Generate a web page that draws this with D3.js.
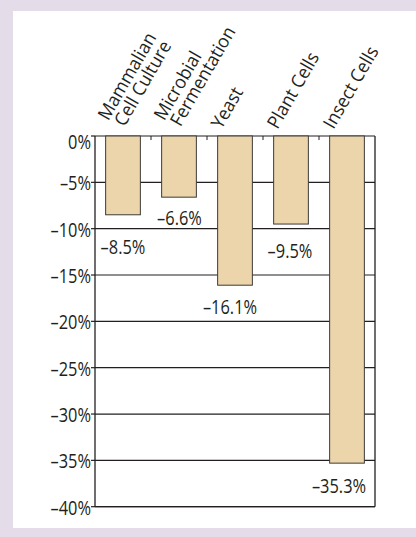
<!DOCTYPE html>
<html>
<head>
<meta charset="utf-8">
<script src="https://cdn.jsdelivr.net/npm/d3@7"></script>
<style>
  html, body { margin: 0; padding: 0; background: #e5dcea; }
  svg { display: block; }
  text { font-family: "Open Sans", "Noto Sans", sans-serif; fill: #231f20; font-weight: 500; }
</style>
</head>
<body>
<svg id="chart" width="416" height="537"></svg>
<script>
// ---- data ----
const categories = ["Mammalian Cell Culture", "Microbial Fermentation", "Yeast", "Plant Cells", "Insect Cells"];
const categoryLines = [["Mammalian", "Cell Culture"], ["Microbial", "Fermentation"], ["Yeast"], ["Plant Cells"], ["Insect Cells"]];
const values = [-8.5, -6.6, -16.1, -9.5, -35.3];
const valueLabels = ["\u20138.5%", "\u20136.6%", "\u201316.1%", "\u20139.5%", "\u201335.3%"];
const yTicks = [0, -5, -10, -15, -20, -25, -30, -35, -40];
const yTickLabels = ["0%", "\u20135%", "\u201310%", "\u201315%", "\u201320%", "\u201325%", "\u201330%", "\u201335%", "\u201340%"];

// ---- layout (not data) ----
const labelNudge = [[0, 39.5], [0.5, 28], [-5, 29], [-1, 34], [-8, 30]]; // dx, baseline gap below bar end
const W = 416, H = 537;
const plot = { left: 95, right: 375, top: 136, bottom: 506.7 };
const ink = "#231f20";
const numSize = 20, sxNum = 0.82;
const catSize = 18.5, sxCat = 0.95;

const svg = d3.select("#chart");

// background panel
svg.append("rect").attr("x", 0).attr("y", 0).attr("width", W).attr("height", H).attr("fill", "#e5dcea");
svg.append("rect").attr("x", 13).attr("y", 11).attr("width", W - 13).attr("height", 517).attr("fill", "#ffffff");

const x = d3.scaleBand().domain(categories).range([plot.left, plot.right]).paddingInner(0.38).paddingOuter(0.19);
const y = d3.scaleLinear().domain([0, -40]).range([plot.top, plot.bottom]);

// gridlines
svg.append("g").selectAll("line").data(yTicks).join("line")
  .attr("x1", plot.left).attr("x2", plot.right)
  .attr("y1", d => y(d)).attr("y2", d => y(d))
  .attr("stroke", ink).attr("stroke-width", 1.2);

// band boundary ticks at the top
const step = x.step();
svg.append("g").selectAll("line").data(d3.range(1, categories.length)).join("line")
  .attr("x1", i => plot.left + i * step).attr("x2", i => plot.left + i * step)
  .attr("y1", plot.top).attr("y2", plot.top + 4)
  .attr("stroke", ink).attr("stroke-width", 1);

// bars
svg.append("g").selectAll("rect").data(values).join("rect")
  .attr("x", (d, i) => x(categories[i]))
  .attr("width", x.bandwidth())
  .attr("y", y(0))
  .attr("height", d => y(d) - y(0))
  .attr("fill", "#ecd5aa")
  .attr("stroke", "#3c3a38")
  .attr("stroke-width", 1);

// axes frame: left, right, bottom
svg.append("line").attr("x1", plot.left).attr("x2", plot.left).attr("y1", plot.top).attr("y2", plot.bottom)
  .attr("stroke", ink).attr("stroke-width", 1.3);
svg.append("line").attr("x1", plot.right).attr("x2", plot.right).attr("y1", plot.top).attr("y2", plot.bottom)
  .attr("stroke", ink).attr("stroke-width", 1.3);
svg.append("line").attr("x1", plot.left).attr("x2", plot.right).attr("y1", plot.bottom).attr("y2", plot.bottom)
  .attr("stroke", ink).attr("stroke-width", 1.3);

// y ticks and labels
const yAxis = svg.append("g");
yAxis.selectAll("line").data(yTicks).join("line")
  .attr("x1", plot.left - 4).attr("x2", plot.left)
  .attr("y1", d => y(d)).attr("y2", d => y(d))
  .attr("stroke", ink).attr("stroke-width", 1.2);
yAxis.selectAll("g").data(yTicks).join("g")
  .attr("transform", d => `translate(91,${Math.max(y(d) + 8, plot.top + 12.5)})`)
  .append("text")
  .attr("transform", `scale(${sxNum},1)`)
  .attr("text-anchor", "end")
  .attr("font-size", numSize)
  .text((d, i) => yTickLabels[i]);

// value labels
svg.append("g").selectAll("g").data(values).join("g")
  .attr("transform", (d, i) => `translate(${x(categories[i]) + x.bandwidth() / 2 + labelNudge[i][0]},${y(d) + labelNudge[i][1]})`)
  .append("text")
  .attr("transform", `scale(${sxNum},1)`)
  .attr("text-anchor", "middle")
  .attr("font-size", numSize)
  .text((d, i) => valueLabels[i]);

// category labels (rotated)
const cat = svg.append("g").selectAll("g").data(categories).join("g")
  .attr("transform", (d, i) => {
    const cx = x(d) + x.bandwidth() / 2 + (categoryLines[i].length === 1 ? -13.5 : 0);
    return `translate(${cx},130) rotate(-60)`;
  });
cat.each(function (d, i) {
  const lines = categoryLines[i];
  const g = d3.select(this);
  lines.forEach((ln, j) => {
    g.append("g")
      .attr("transform", `translate(${j * 3},${(j - (lines.length - 1)) * 17})`)
      .append("text")
      .attr("transform", `scale(${sxCat},1)`)
      .attr("text-anchor", "start")
      .attr("font-size", catSize)
      .text(ln);
  });
});
</script>
</body>
</html>
